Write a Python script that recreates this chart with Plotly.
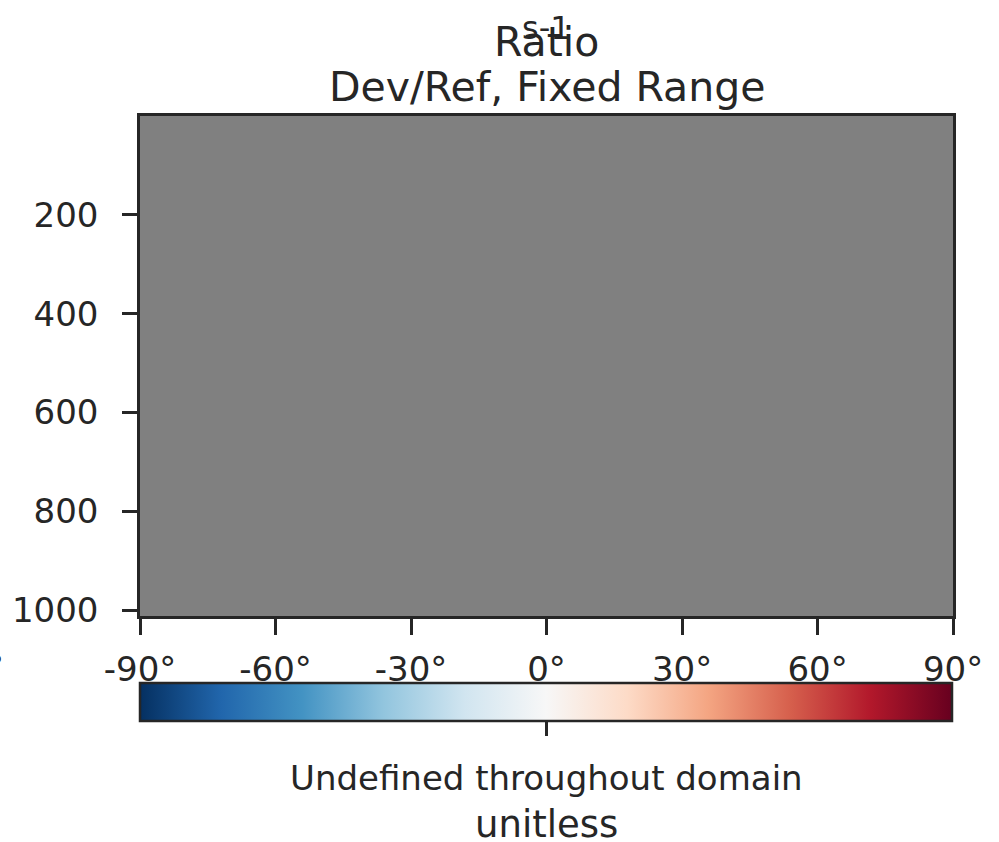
import math
import plotly.graph_objects as go
import plotly.colors as pc

# ---- data ----
lat = [-90, -60, -30, 0, 30, 60, 90]
lev = [0, 200, 400, 600, 800, 1000, 1012]
ratio = [[math.nan for _ in lat] for _ in lev]   # undefined throughout domain
x_tickvals = [-90, -60, -30, 0, 30, 60, 90]
x_ticktext = ["-90°", "-60°", "-30°", "0°", "30°", "60°", "90°"]
y_tickvals = [200, 400, 600, 800, 1000]
cbar_range = [0, 2]
cbar_ticks = [1]

TXT = "#262626"
FONT = "DejaVu Sans"
W, H = 999, 842
L, R, T, B = 140, 46, 116, 226
PH = H - T - B


def py(p):
    return (H - B - p) / PH


def px(p):
    return (p - L) / (W - L - R)


scale = [[c[0], c[1]] for c in pc.make_colorscale(list(reversed(pc.diverging.RdBu)))]

# flattened grid of the (undefined) field, used to carry the colour bar
flat_x = [x for _ in lev for x in lat]
flat_y = [y for y in lev for _ in lat]
flat_z = [v for row in ratio for v in row]

fig = go.Figure()
fig.add_trace(go.Heatmap(
    x=lat, y=lev, z=ratio,
    zmin=cbar_range[0], zmax=cbar_range[1], zauto=False,
    colorscale=scale, showscale=False, hoverongaps=False,
))
fig.add_trace(go.Scatter(
    x=flat_x, y=flat_y, mode="markers", hoverinfo="skip",
    marker=dict(
        color=flat_z, cmin=cbar_range[0], cmax=cbar_range[1], cauto=False,
        colorscale=scale, showscale=True, size=1, opacity=0,
        colorbar=dict(
            orientation="h",
            x=0.5, xanchor="center",
            y=py(683), yanchor="top",
            lenmode="pixels", len=812,
            thicknessmode="pixels", thickness=38,
            xpad=0, ypad=0,
            outlinecolor=TXT, outlinewidth=2.5,
            tickvals=cbar_ticks, ticktext=[" "],
            ticks="outside", ticklen=14, tickwidth=2.5, tickcolor=TXT,
            tickfont=dict(family=FONT, size=30, color=TXT),
        ),
    ),
))

fig.update_layout(
    width=W, height=H,
    margin=dict(l=L, r=R, t=T, b=B),
    paper_bgcolor="white",
    plot_bgcolor="#808080",
    font=dict(family=FONT, color=TXT),
    xaxis=dict(
        range=[-90, 90], tickvals=x_tickvals, ticktext=x_ticktext,
        ticks="outside", ticklen=16, tickwidth=2.5, tickcolor=TXT,
        showline=True, linecolor=TXT, linewidth=2.5, mirror=True,
        showgrid=False, zeroline=False,
        tickfont=dict(family=FONT, size=34, color=TXT),
        ticklabelstandoff=5,
    ),
    yaxis=dict(
        range=[1012, 0], tickvals=y_tickvals,
        ticks="outside", ticklen=15, tickwidth=2.5, tickcolor=TXT,
        showline=True, linecolor=TXT, linewidth=2.5, mirror=True,
        showgrid=False, zeroline=False,
        tickfont=dict(family=FONT, size=34, color=TXT),
        ticklabelstandoff=17,
    ),
    showlegend=False,
)

ann = [
    dict(text="s-1", x=0.5, y=py(28), size=32),
    dict(text="Ratio", x=0.5, y=py(42), size=41),
    dict(text="Dev/Ref, Fixed Range", x=0.5, y=py(87), size=41),
    dict(text="Undefined throughout domain", x=0.5, y=py(778), size=34),
    dict(text="unitless", x=0.5, y=py(824), size=37),
]
for a in ann:
    fig.add_annotation(
        text=a["text"], x=a["x"], y=a["y"], xref="paper", yref="paper",
        xanchor="center", yanchor="middle", showarrow=False,
        font=dict(family=FONT, size=a["size"], color=TXT),
    )
fig.add_annotation(
    text="°", x=px(6), y=py(667), xref="paper", yref="paper",
    xanchor="right", yanchor="middle", showarrow=False,
    font=dict(family=FONT, size=34, color=TXT),
)

fig.write_html("out.html", config={"displayModeBar": False},
               post_script="document.body.style.margin='0';")
